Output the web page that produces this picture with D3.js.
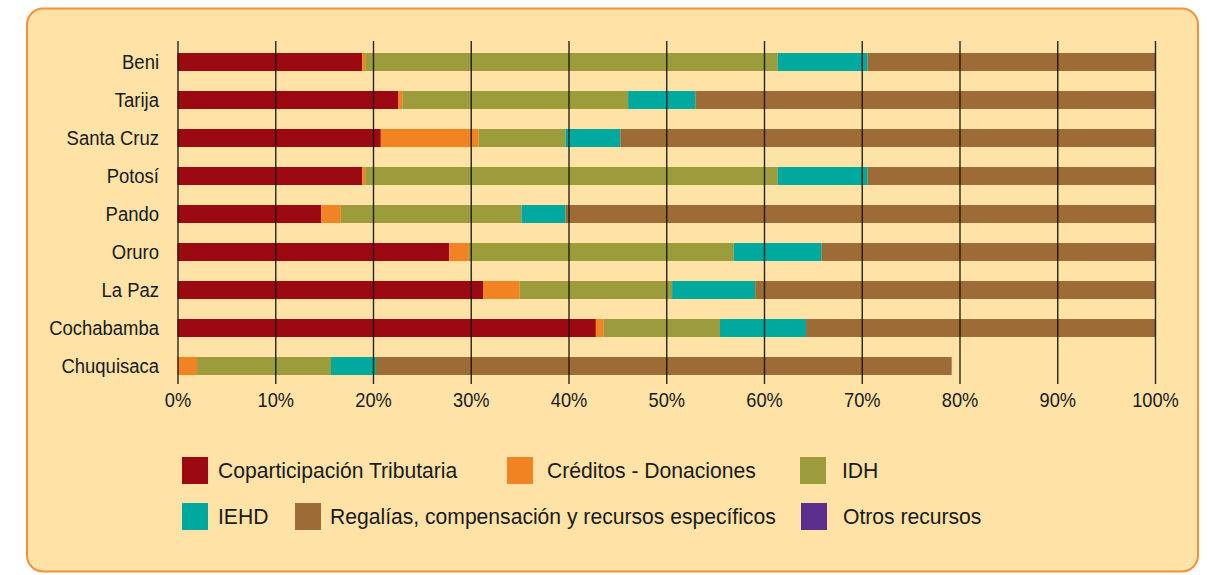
<!DOCTYPE html>
<html>
<head>
<meta charset="utf-8">
<script src="https://cdn.jsdelivr.net/npm/d3@7"></script>
<style>
  html, body { margin: 0; padding: 0; background: #fff; }
  svg { display: block; }
  text { font-family: "Liberation Sans", Arial, sans-serif; fill: #1a1a1a; }
</style>
</head>
<body>
<svg id="chart" width="1211" height="575"></svg>
<script>
// Departments, top to bottom
const departments = ['Beni', 'Tarija', 'Santa Cruz', 'Potosí', 'Pando', 'Oruro', 'La Paz', 'Cochabamba', 'Chuquisaca'];

// Series names (legend order)
const seriesNames = [
  'Coparticipación Tributaria',
  'Créditos - Donaciones',
  'IDH',
  'IEHD',
  'Regalías, compensación y recursos específicos',
  'Otros recursos'
];
const seriesColors = ['#9b0a12', '#f28322', '#9c9c3c', '#00a99d', '#9c6b36', '#5b2d8c'];

// Share (%) of each source, per department (same order as departments)
const coparticipacion = [18.9, 22.6, 20.8, 18.9, 14.7, 27.8, 31.3, 42.8, 0];
const creditos        = [0.3, 0.4, 10.0, 0.3, 2.0, 2.0, 3.7, 0.8, 2.0];
const idh             = [42.2, 23.1, 8.9, 42.2, 18.5, 27.1, 15.6, 11.9, 13.7];
const iehd            = [9.2, 6.9, 5.6, 9.2, 4.5, 9.0, 8.5, 8.8, 4.6];
const regalias        = [29.4, 47.0, 54.7, 29.4, 60.3, 34.1, 40.9, 35.7, 58.9];
const otros           = [0, 0, 0, 0, 0, 0, 0, 0, 0];

const ticks = [0, 10, 20, 30, 40, 50, 60, 70, 80, 90, 100];

const keys = ['cop', 'cre', 'idh', 'iehd', 'reg', 'otr'];
const table = departments.map((d, i) => ({
  dept: d,
  cop: coparticipacion[i],
  cre: creditos[i],
  idh: idh[i],
  iehd: iehd[i],
  reg: regalias[i],
  otr: otros[i]
}));

const svg = d3.select('#chart');

// panel background
svg.append('rect')
  .attr('x', 27).attr('y', 8.5)
  .attr('width', 1171).attr('height', 563)
  .attr('rx', 16).attr('ry', 16)
  .attr('fill', '#fee2a6')
  .attr('stroke', '#f4923a')
  .attr('stroke-width', 2);

const x = d3.scaleLinear().domain([0, 100]).range([177.5, 1155]);
const y = d3.scaleBand().domain(departments).range([43, 385])
  .paddingInner(20 / 38).paddingOuter(10 / 38);

const color = d3.scaleOrdinal().domain(keys).range(seriesColors);

const stacked = d3.stack().keys(keys)(table);

// bars
svg.append('g')
  .selectAll('g')
  .data(stacked)
  .join('g')
  .attr('fill', (s) => color(s.key))
  .selectAll('rect')
  .data((s) => s)
  .join('rect')
  .attr('x', (d) => x(d[0]))
  .attr('y', (d) => y(d.data.dept))
  .attr('width', (d) => Math.max(0, x(d[1]) - x(d[0])))
  .attr('height', y.bandwidth());

// vertical grid lines, drawn over the bars
const xAxis = svg.append('g')
  .attr('transform', 'translate(0,41)')
  .call(d3.axisBottom(x).tickValues(ticks).tickSize(343).tickFormat((d) => `${d}%`).tickPadding(0));
xAxis.select('.domain').remove();
xAxis.selectAll('line').attr('stroke', '#111').attr('stroke-opacity', 0.9).attr('stroke-width', 1.4);
xAxis.selectAll('text')
  .attr('y', 0)
  .attr('dy', '0.35em')
  .attr('transform', 'translate(0,359) scale(0.87,1)')
  .style('font-size', '21px')
  .style('fill', '#1a1a1a');

// department labels
const yAxis = svg.append('g')
  .attr('transform', 'translate(159,0)')
  .call(d3.axisLeft(y).tickSize(0).tickPadding(0));
yAxis.select('.domain').remove();
yAxis.selectAll('text')
  .attr('transform', 'scale(0.88,1)')
  .style('font-size', '21px')
  .style('fill', '#1a1a1a');

// legend
const legendCols = [[182, 507, 800], [182, 295, 801]];
const textShift = [[36, 40, 42], [36, 35, 42]];
const legend = svg.append('g');
seriesNames.forEach((name, i) => {
  const row = Math.floor(i / 3);
  const col = i % 3;
  const lx = legendCols[row][col];
  const ly = 457 + row * 46;
  legend.append('rect')
    .attr('x', lx).attr('y', ly)
    .attr('width', 26).attr('height', 27)
    .attr('fill', seriesColors[i]);
  legend.append('text')
    .attr('transform', `translate(${lx + textShift[row][col]},${ly + 13.5}) scale(0.96,1)`)
    .attr('dy', '0.35em')
    .style('font-size', '22px')
    .text(name);
});
</script>
</body>
</html>
